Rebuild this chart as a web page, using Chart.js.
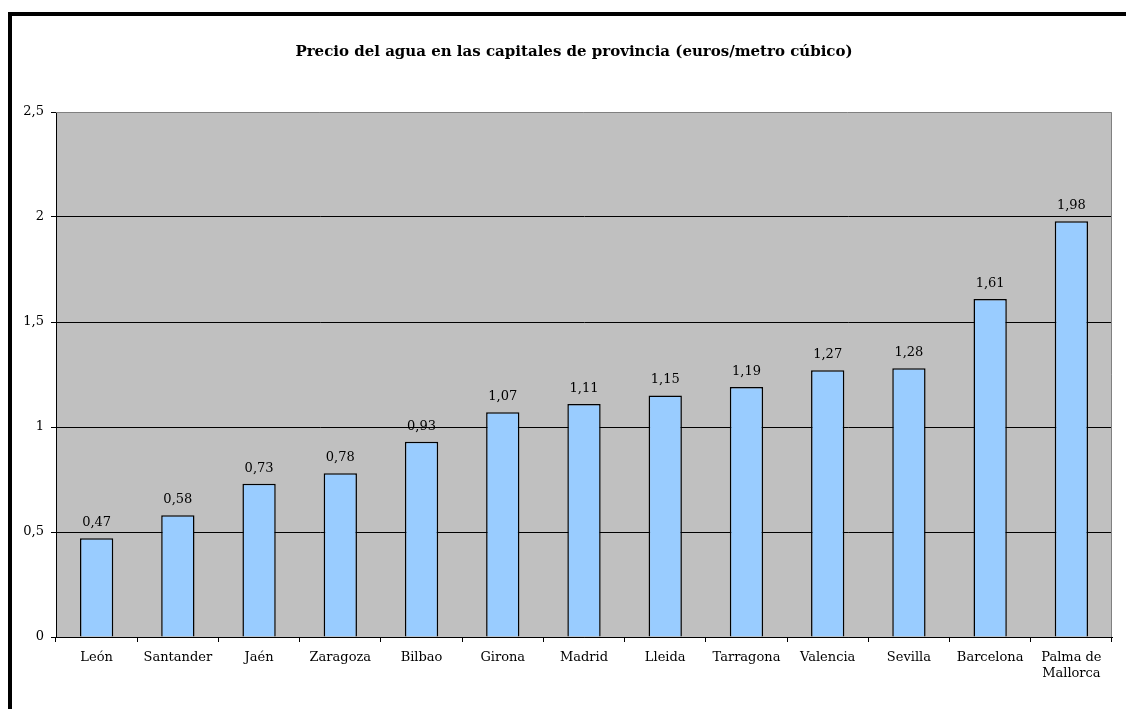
<!DOCTYPE html>
<html>
<head>
<meta charset="utf-8">
<script src="https://cdn.jsdelivr.net/npm/chart.js@4"></script>
<style>
  html, body { margin: 0; padding: 0; background: #fff; overflow: hidden; }
  #frame { position: absolute; left: 8px; top: 12px; width: 1130px; height: 710px; border: 4px solid #000; box-sizing: border-box; }
  #wrap { position: absolute; left: 0; top: 0; width: 1126px; height: 709px; }
</style>
</head>
<body>
<div id="frame"></div>
<div id="wrap"><canvas id="chart"></canvas></div>
<script>
// datos del gráfico
const ciudades = ['León', 'Santander', 'Jaén', 'Zaragoza', 'Bilbao', 'Girona', 'Madrid', 'Lleida',
    'Tarragona', 'Valencia', 'Sevilla', 'Barcelona', ['Palma de', 'Mallorca']];
const precios = [0.47, 0.58, 0.73, 0.78, 0.93, 1.07, 1.11, 1.15, 1.19, 1.27, 1.28, 1.61, 1.98];
const ticksY = [0, 0.5, 1, 1.5, 2, 2.5];

const fmt = v => String(v).replace('.', ',');
const FONT = 'DejaVu Serif';

// fondo gris del área de trazado + borde superior/derecho
const fondo = {
    id: 'fondo',
    afterLayout(chart) {
        // el título está un poco desplazado a la derecha en el original
        if (chart.titleBlock) chart.titleBlock.left += 36;
    },
    beforeDraw(chart) {
        const { ctx, chartArea: a } = chart;
        ctx.save();
        ctx.fillStyle = '#C0C0C0';
        ctx.fillRect(a.left, a.top, a.right - a.left, a.bottom - a.top);
        ctx.restore();
    },
    afterDatasetsDraw(chart) {
        const { ctx, chartArea: a } = chart;
        ctx.save();
        ctx.strokeStyle = '#808080';
        ctx.lineWidth = 1;
        ctx.beginPath();
        ctx.moveTo(a.left, a.top + 0.5);
        ctx.lineTo(a.right - 0.5, a.top + 0.5);
        ctx.lineTo(a.right - 0.5, a.bottom);
        ctx.stroke();
        ctx.restore();
    }
};

// etiquetas de valor encima de las barras
const etiquetas = {
    id: 'etiquetas',
    afterDatasetsDraw(chart) {
        const { ctx } = chart;
        const meta = chart.getDatasetMeta(0);
        ctx.save();
        ctx.font = '13px "' + FONT + '"';
        ctx.fillStyle = '#000';
        ctx.textAlign = 'center';
        ctx.textBaseline = 'bottom';
        meta.data.forEach((bar, i) => {
            ctx.fillText(fmt(precios[i]), bar.x, bar.y - 9);
        });
        ctx.restore();
    }
};

new Chart(document.getElementById('chart'), {
    type: 'bar',
    data: {
        labels: ciudades,
        datasets: [{
            data: precios,
            backgroundColor: '#99CCFF',
            borderColor: '#000',
            borderWidth: 1.5,
            barPercentage: 0.41,
            categoryPercentage: 1
        }]
    },
    options: {
        responsive: true,
        maintainAspectRatio: false,
        animation: false,
        layout: { padding: { left: 0, right: 14, top: 0, bottom: 0 } },
        plugins: {
            legend: { display: false },
            tooltip: { enabled: false },
            title: {
                display: true,
                text: 'Precio del agua en las capitales de provincia (euros/metro cúbico)',
                color: '#000',
                font: { family: FONT, size: 15, weight: 'bold' },
                padding: { top: 43, bottom: 51 }
            }
        },
        scales: {
            x: {
                offset: true,
                grid: { offset: true, drawOnChartArea: false, drawTicks: true, tickLength: 5, color: '#000' },
                border: { color: '#000', width: 1 },
                ticks: {
                    color: '#000', maxRotation: 0, autoSkip: false, padding: 8,
                    font: { family: FONT, size: 13 }
                },
                afterFit(scale) { scale.height = 72; }
            },
            y: {
                min: 0,
                max: 2.5,
                afterBuildTicks(scale) { scale.ticks = ticksY.map(v => ({ value: v })); },
                grid: {
                    color: ctx => ctx.tick && ctx.tick.value === 2.5 ? 'rgba(0,0,0,0)' : '#000',
                    tickColor: '#000',
                    tickLength: 5,
                    lineWidth: 1
                },
                border: { color: '#000', width: 1 },
                ticks: {
                    color: '#000', padding: 7,
                    font: { family: FONT, size: 13 },
                    callback: v => fmt(v)
                },
                afterFit(scale) { scale.width = 56; }
            }
        }
    },
    plugins: [fondo, etiquetas]
});
</script>
</body>
</html>
